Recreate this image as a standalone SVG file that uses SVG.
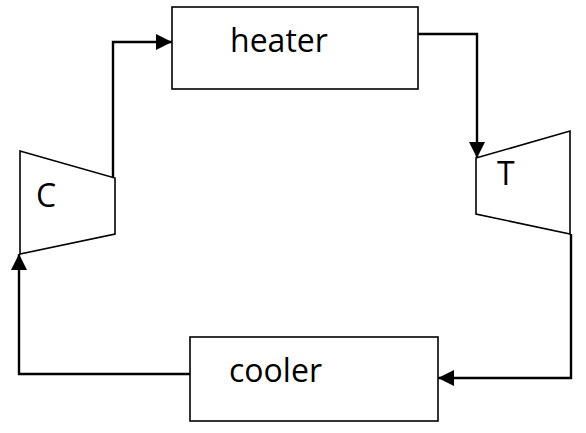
<svg xmlns="http://www.w3.org/2000/svg" width="586" height="433" viewBox="0 0 586 433">
<style>
.box{fill:#fff;stroke:#000;stroke-width:1.6}
.lbl{font-family:"Open Sans","Noto Sans",sans-serif;font-size:32px;fill:#000}
.conn{fill:none;stroke:#000;stroke-width:2.4}
</style>
<defs>
<marker id="ah" viewBox="0 0 16 16" refX="16" refY="8" markerWidth="16" markerHeight="16" markerUnits="userSpaceOnUse" orient="auto">
<path d="M0,0 L16,8 L0,16 Z" fill="#000"/>
</marker>
</defs>
<rect width="586" height="433" fill="#fff"/>
<g id="heater">
<rect class="box" x="172" y="7" width="246" height="82"/>
<text class="lbl" x="230" y="52">heater</text>
</g>
<g id="cooler">
<rect class="box" x="190" y="337" width="248" height="84"/>
<text class="lbl" x="229" y="382">cooler</text>
</g>
<g id="compressor">
<polygon class="box" points="20,151 115,178 115,234 20,254"/>
<text class="lbl" x="36" y="207">C</text>
</g>
<g id="turbine">
<polygon class="box" points="476,158 570,131 570,234 476,214"/>
<text class="lbl" x="497" y="185">T</text>
</g>
<g id="connectors">
<path class="conn" d="M113,178 V42 H172" marker-end="url(#ah)"/>
<path class="conn" d="M418,34 H477 V158" marker-end="url(#ah)"/>
<path class="conn" d="M571,234 V378 H438" marker-end="url(#ah)"/>
<path class="conn" d="M190,374 H19 V254" marker-end="url(#ah)"/>
</g>
</svg>
